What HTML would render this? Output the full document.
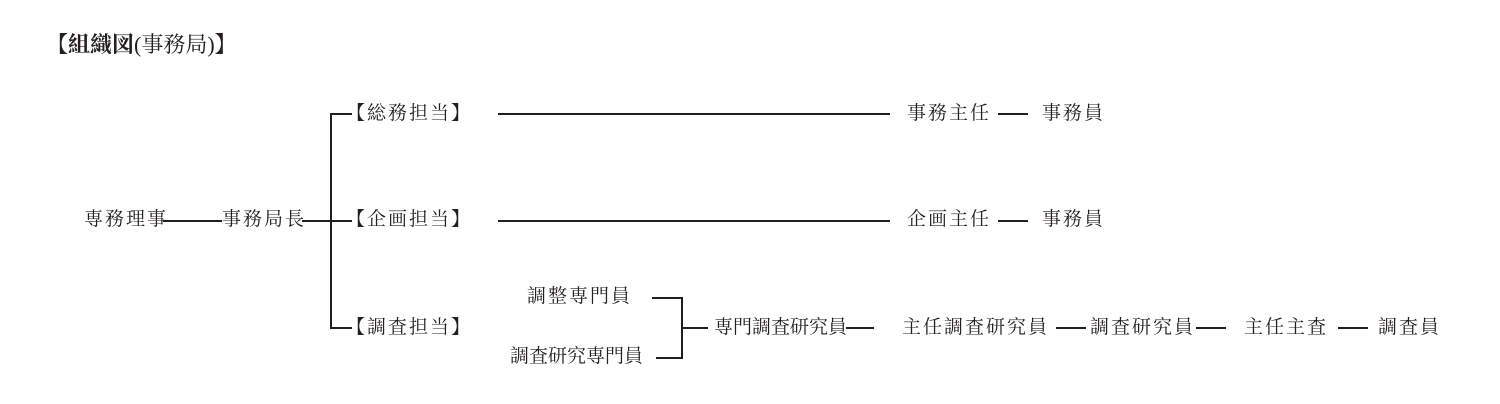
<!DOCTYPE html>
<html><head><meta charset="utf-8"><style>
body{margin:0;width:1500px;height:404px;background:#fff;position:relative;overflow:hidden;font-family:"Liberation Serif","Noto Serif CJK SC",serif;color:#231f20}
.t{position:absolute;font-size:19px;line-height:20px;white-space:nowrap;letter-spacing:2px}
.h{position:absolute;height:2px;background:#231f20}
.v{position:absolute;width:2px;background:#231f20}
</style></head><body>
<div class="t" style="left:46px;top:35px;font-size:22px;letter-spacing:0;font-weight:bold">【組織図<span style="font-weight:normal">(事務局)</span>】</div>

<div class="t" style="left:84px;top:210px">専務理事</div>
<div class="h" style="left:163px;top:220px;width:59px"></div>
<div class="t" style="left:222px;top:210px">事務局長</div>
<div class="h" style="left:302px;top:220px;width:50px"></div>
<div class="v" style="left:330px;top:113px;height:216px"></div>
<div class="h" style="left:330px;top:113px;width:22px"></div>
<div class="h" style="left:330px;top:327px;width:22px"></div>

<div class="t" style="left:346px;top:104px">【総務担当】</div>
<div class="t" style="left:346px;top:210px">【企画担当】</div>
<div class="t" style="left:346px;top:318px">【調査担当】</div>

<div class="h" style="left:498px;top:113px;width:392px"></div>
<div class="h" style="left:498px;top:220px;width:392px"></div>
<div class="t" style="left:907px;top:104px">事務主任</div>
<div class="h" style="left:998px;top:113px;width:30px"></div>
<div class="t" style="left:1042px;top:104px">事務員</div>
<div class="t" style="left:907px;top:210px">企画主任</div>
<div class="h" style="left:998px;top:220px;width:30px"></div>
<div class="t" style="left:1042px;top:210px">事務員</div>

<div class="t" style="left:527px;top:287px">調整専門員</div>
<div class="t" style="left:510px;top:347px;letter-spacing:0">調査研究専門員</div>
<div class="h" style="left:652px;top:297px;width:31px"></div>
<div class="h" style="left:656px;top:357px;width:27px"></div>
<div class="v" style="left:681px;top:297px;height:62px"></div>
<div class="h" style="left:681px;top:327px;width:27px"></div>
<div class="t" style="left:714px;top:318px;letter-spacing:0">専門調査研究員</div>
<div class="h" style="left:846px;top:327px;width:28px"></div>
<div class="t" style="left:902px;top:318px">主任調査研究員</div>
<div class="h" style="left:1056px;top:327px;width:30px"></div>
<div class="t" style="left:1090px;top:318px">調査研究員</div>
<div class="h" style="left:1196px;top:327px;width:30px"></div>
<div class="t" style="left:1244px;top:318px">主任主査</div>
<div class="h" style="left:1338px;top:327px;width:30px"></div>
<div class="t" style="left:1378px;top:318px">調査員</div>
</body></html>
